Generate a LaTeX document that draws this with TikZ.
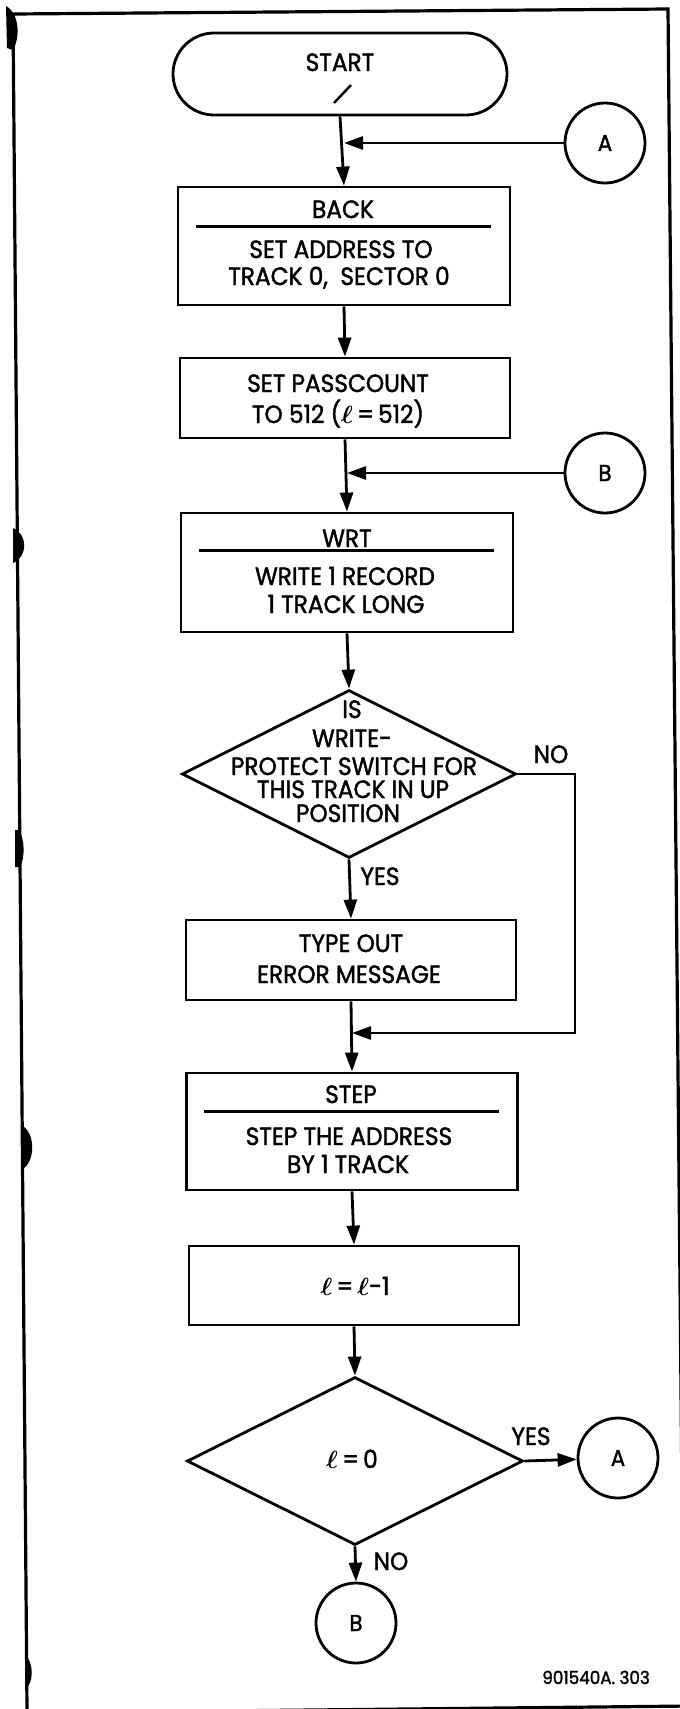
\documentclass[tikz,border=0pt]{standalone}
\usepackage{fontspec}
\setmainfont[FakeBold=1.6,FakeStretch=0.93]{Poppins}
\usetikzlibrary{arrows.meta,shapes.geometric,shapes.misc,calc}

\newcommand{\ellb}{{\boldmath$\ell$}}

\tikzset{
  ln/.style={line width=2.8pt},
  term/.style={draw, ln, rounded rectangle, inner sep=0pt},
  proc/.style={draw, ln, rectangle, inner sep=0pt},
  decision/.style={draw, ln, diamond, inner sep=0pt, minimum width=334pt, minimum height=168pt},
  conn/.style={draw, ln, circle, inner sep=0pt, minimum size=80pt, font=\fontsize{23}{23}\selectfont},
  txt/.style={inner sep=0pt, anchor=base, font=\fontsize{25}{28}\selectfont},
  flow/.style={ln, -{Triangle[length=19pt,width=13pt]}},
  divider/.style={line width=2.5pt},
  frame/.style={line width=3.2pt},
  punch/.style={fill=black},
}

\begin{document}
\begin{tikzpicture}[x=1pt,y=-1pt]
\useasboundingbox (0,0) rectangle (680,1709);

% page frame and binder punch marks
\draw[frame] (27,1709) -- (13,14) -- (668,9) -- (684,1709);
\draw[frame] (27,1713) -- (690,1706);
\fill[punch] (6,6) .. controls (20,14) and (20,38) .. (13,50) -- (7,48) -- cycle;
\fill[punch] (13,528) .. controls (28,534) and (28,557) .. (13,563) -- cycle;
\fill[punch] (15,830) -- (19,830) .. controls (25,840) and (25,858) .. (20,867) -- (15,867) -- cycle;
\fill[punch] (21,1125) .. controls (36,1132) and (36,1163) .. (21,1170) -- cycle;
\fill[punch] (25,1655) .. controls (34,1662) and (34,1683) .. (25,1690) -- cycle;

% flowchart shapes
\node[term, minimum width=334pt, minimum height=82pt] (start) at (340,74) {};
\node[proc, minimum width=332pt, minimum height=118pt] (back) at (344,246) {};
\node[proc, minimum width=330pt, minimum height=80pt] (pass) at (345,398) {};
\node[proc, minimum width=332pt, minimum height=119pt] (wrt) at (347,572.5) {};
\node[decision] (q1) at (349,774) {};
\node[proc, minimum width=330pt, minimum height=80pt] (type) at (351,960) {};
\node[proc, minimum width=331pt, minimum height=117pt] (step) at (352,1131.5) {};
\node[proc, minimum width=330pt, minimum height=79pt] (dec) at (354,1285.5) {};
\node[decision, minimum width=336pt] (q2) at (355,1461) {};
\node[conn] (a1) at (605,143) {A};
\node[conn] (b1) at (605,473) {B};
\node[conn] (a2) at (618,1458) {A};
\node[conn] (b2) at (356,1623) {B};

% dividers under the routine names
\draw[divider] ($(back.north west)+(19,41)$) -- ($(back.north east)+(-20,41)$);
\draw[divider] ($(wrt.north west)+(19,39)$) -- ($(wrt.north east)+(-20,39)$);
\draw[divider] ($(step.north west)+(19,40)$) -- ($(step.north east)+(-20,40)$);

% texts
\node[txt] (tstart) at (340,71) {START};
\draw[line width=2.4pt] ($(start.center)+(-6,29)$) -- ($(start.center)+(11,11)$);
\node[txt] (tback) at (343,218) {BACK};
\node[txt] (tback1) at (341,258) {SET ADDRESS TO};
\node[txt] (tback2) at (339,285) {TRACK 0, \ SECTOR 0};
\node[txt] (tpass1) at (338,392) {SET PASSCOUNT};
\node[txt] (tpass2) at (338,423) {TO 512 (\ellb\,=\,512)};
\node[txt] (twrt) at (347,547) {WRT};
\node[txt] (twrt1) at (345,585) {WRITE 1 RECORD};
\node[txt] (twrt2) at (346,613) {1 TRACK LONG};
\node[txt] (tq1a) at (352,718) {IS};
\node[txt] (tq1b) at (352,747) {WRITE-};
\node[txt] (tq1c) at (354,775) {PROTECT SWITCH FOR};
\node[txt] (tq1d) at (353,798) {THIS TRACK IN UP};
\node[txt] (tq1e) at (348,822) {POSITION};
\node[txt] (tyes1) at (380,885) {YES};
\node[txt] (tno1) at (551,763) {NO};
\node[txt] (ttype1) at (351,952) {TYPE OUT};
\node[txt] (ttype2) at (349,983) {ERROR MESSAGE};
\node[txt] (tstep) at (351,1103) {STEP};
\node[txt] (tstep1) at (349,1145) {STEP THE ADDRESS};
\node[txt] (tstep2) at (348,1173) {BY 1 TRACK};
\node[txt] (tdec) at (355,1295) {\ellb\,=\,\ellb-1};
\node[txt] (tq2) at (352,1468) {\ellb\,=\,0};
\node[txt] (tyes2) at (531,1445) {YES};
\node[txt] (tno2) at (391,1570) {NO};
\node[inner sep=0pt, anchor=base east, font=\fontsize{18}{18}\selectfont] (fig) at (650,1684) {901540A. 303};

% connectors
\coordinate (noc) at (575,1033);
\draw[flow] (start.south) -- (back.north);
\draw[flow] (a1) -- (a1 -| back.north);
\draw[flow] (back.south) -- (pass.north);
\draw[flow] (b1) -- (b1 -| wrt.north);
\draw[flow] (pass.south) -- (wrt.north);
\draw[flow] (wrt.south) -- (q1.north);
\draw[flow] (q1.south) -- (type.north);
\draw[flow] (q1.east) -| (noc) -- (noc -| step.north);
\draw[flow] (type.south) -- (step.north);
\draw[flow] (step.south) -- (dec.north);
\draw[flow] (dec.south) -- (q2.north);
\draw[flow] (q2.east) -- (a2);
\draw[flow] (q2.south) -- (b2.north);
\end{tikzpicture}
\end{document}
